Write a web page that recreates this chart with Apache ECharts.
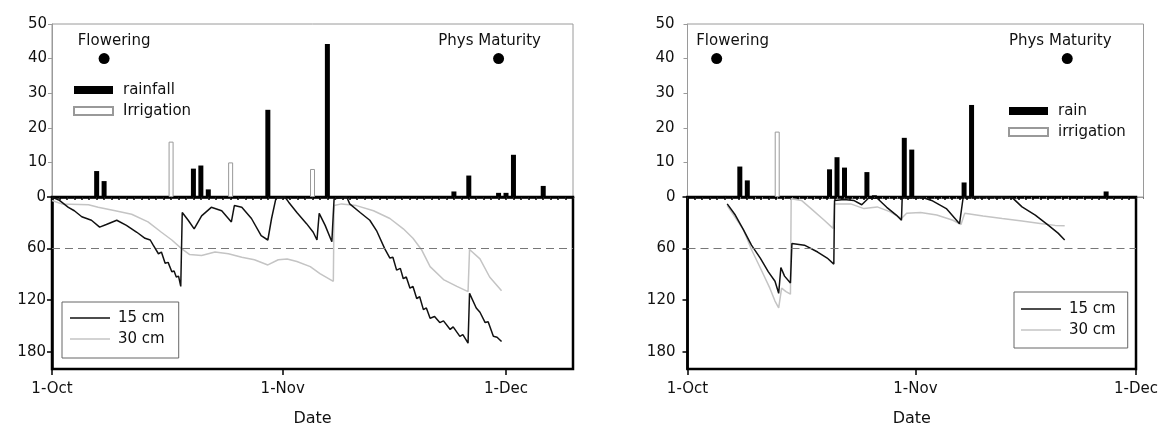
<!DOCTYPE html>
<html>
<head>
<meta charset="utf-8">
<script src="https://cdn.jsdelivr.net/npm/echarts@6/dist/echarts.min.js"></script>
<style>
  html, body { margin: 0; padding: 0; background: #fff; }
  #chart { width: 1161px; height: 428px; }
</style>
</head>
<body>
<div id="chart"></div>
<script>
// x values are days after 1-Oct
const monthTicks = [0, 31, 61]
const monthLabels = ['1-Oct', '1-Nov', '1-Dec']
const depthTicks = [0, 60, 120, 180]
const stageNames = ['Flowering', 'Phys Maturity']

/* left panel */
const leftStageDays = [7, 60]
const leftRain = [[6, 7.5], [7, 4.6], [19, 8.2], [20, 9.1], [21, 2.2], [29, 25.2], [37, 44.2],
  [54, 1.6], [56, 6.2], [60, 1.2], [61, 1.2], [62, 12.2], [66, 3.2]]
const leftIrrigation = [[16, 16], [24, 10], [35, 8.1]]
const left15cm = [[0, 0], [1, 4], [2.2, 12], [3, 16], [4, 23], [5.3, 27], [6.4, 35], [7.3, 32], [8.7, 27],
  [10, 33], [11.4, 41], [12.5, 48], [13.2, 50], [13.6, 56], [14.3, 66], [14.7, 64], [15.2, 77], [15.6, 76],
  [16.1, 87], [16.4, 86], [16.7, 93], [17, 92], [17.3, 104], [17.5, 18], [18.3, 27], [19.1, 37], [20.1, 22],
  [21.4, 12], [22.8, 16], [24.1, 29], [24.5, 10], [25.5, 12], [26.8, 25], [28.1, 45], [29, 50], [29.5, 25],
  [30.1, 1], [31.3, 0], [31.8, 6], [32.9, 18], [34.2, 31], [35.1, 41], [35.6, 50], [35.9, 19], [36.7, 33],
  [37.6, 52], [37.9, 2], [38, 0], [39.6, 0], [40, 8], [41.4, 18], [42.7, 27], [43.6, 39], [44.7, 60],
  [45.4, 71], [45.8, 70], [46.3, 85], [46.8, 83], [47.2, 95], [47.6, 93], [48.1, 106], [48.5, 104],
  [49, 118], [49.4, 116], [49.9, 131], [50.3, 129], [50.8, 141], [51.4, 139], [52.1, 146], [52.6, 144],
  [53.5, 154], [53.9, 151], [54.8, 162], [55.2, 160], [55.9, 170], [56.1, 112], [57, 129], [57.5, 134],
  [58.2, 146], [58.6, 145], [59.3, 162], [59.8, 163], [60.4, 168]]
const left30cm = [[0, 4], [1.3, 8], [4.9, 9], [6.2, 12], [8.5, 16], [10.7, 20], [12.9, 29], [14.7, 41],
  [16.1, 50], [17.4, 60], [18.5, 67], [20.1, 68], [21.9, 64], [23.7, 66], [25.5, 70], [27.2, 73], [29, 79],
  [30.4, 73], [31.6, 72], [32.9, 75], [34.7, 81], [36, 89], [37.8, 98], [37.9, 10], [38.9, 8], [40.9, 10],
  [43.2, 16], [45.4, 25], [47.2, 37], [48.5, 48], [49.7, 62], [50.8, 81], [52.6, 96], [54.4, 104],
  [55.9, 110], [56.1, 61], [57.5, 72], [58.8, 93], [60.4, 109]]

/* right panel */
const rightStageDays = [3.9, 50.8]
const rightRain = [[5, 0.3], [7, 8.8], [8, 4.8], [19, 8], [20, 11.5], [21, 8.5], [24, 7.2], [25, 0.5],
  [29, 17.1], [30, 13.7], [37, 4.2], [38, 26.6], [45, 0.3], [56, 1.6]]
const rightIrrigation = [[12, 18.9]]
const right15cm = [[5.4, 8], [6.5, 21], [7.6, 38], [8.7, 56], [9.9, 71], [11, 87], [11.9, 98], [12.4, 112],
  [12.7, 82], [13.2, 92], [14, 100], [14.2, 54], [15.9, 56], [17.7, 64], [19, 71], [19.9, 78], [20, 4],
  [21.3, 3], [22.6, 4], [23.7, 9], [24.6, 1.5], [25.8, 1.5], [27.1, 12], [28.4, 21], [29.1, 27], [29.2, 1],
  [32, 0.5], [33.2, 4], [35.2, 13.5], [37, 31], [37.5, 0], [42.8, 0], [44.2, 1], [45.5, 11.5], [47.3, 21],
  [49.1, 33], [50.4, 42], [51.3, 50]]
const right30cm = [[5.4, 10], [7.6, 38], [8.7, 61], [10.1, 86], [11.2, 106], [11.9, 121], [12.4, 129],
  [12.8, 106], [13.4, 110], [14, 113], [14.1, 2], [15.5, 4], [16.8, 13.5], [18.6, 27], [19.8, 36.5], [20, 8],
  [22.2, 8], [24, 13.5], [25.8, 11.5], [27.5, 17], [29.1, 25], [29.8, 19], [31.7, 18], [33.9, 21],
  [36.1, 27], [37.2, 32], [37.7, 19], [40.2, 22], [42.8, 25], [45.5, 28], [48.2, 31], [50, 33], [51.3, 33.5]]

const FONT = 'DejaVu Sans'
const TXT = '#111'
const GREY = '#9a9a9a'
const FS = 15

const panels = [
  {
    left: 52, width: 521, maxDay: 70, yMargin: 5, yMargin2: 6,
    rainName: 'rainfall', irrName: 'Irrigation',
    rain: leftRain, irr: leftIrrigation, d15: left15cm, d30: left30cm,
    stageDays: leftStageDays, stageOffsets: [10, -9],
    barLegend: { left: 73, top: 82 },
    lineLegend: { left: 62, top: 302, padding: [8, 14, 11, 8] },
  },
  {
    left: 687.5, width: 456, maxDay: 61, yMargin: 13, yMargin2: 12,
    rainName: 'rain', irrName: 'irrigation',
    rain: rightRain, irr: rightIrrigation, d15: right15cm, d30: right30cm,
    stageDays: rightStageDays, stageOffsets: [16, -7],
    barLegend: { left: 1008, top: 103 },
    lineLegend: { left: 1014, top: 292, padding: [9, 12, 10, 7] },
  },
]

const option = {
  animation: false,
  backgroundColor: '#fff',
  textStyle: { fontFamily: FONT, color: TXT },
  grid: [], xAxis: [], yAxis: [], series: [], legend: [],
}

panels.forEach((p, i) => {
  const gTop = 2 * i, gBot = 2 * i + 1
  const xTop = 3 * i, xBot = 3 * i + 1
  const yTop = 2 * i, yBot = 2 * i + 1

  option.grid.push(
    { left: p.left, width: p.width, top: 24, height: 173, show: true, borderColor: GREY, borderWidth: 1 },
    { left: p.left, width: p.width, top: 197, height: 174, show: true, borderColor: '#000', borderWidth: 2.5 }
  )

  option.xAxis.push(
    {
      type: 'value', gridIndex: gTop, position: 'top', min: 0, max: p.maxDay, interval: 1,
      axisLine: { lineStyle: { color: GREY, width: 1 } },
      axisTick: { inside: true, length: 2, lineStyle: { color: '#777' } },
      axisLabel: { show: false }, splitLine: { show: false },
    },
    {
      type: 'value', gridIndex: gBot, position: 'bottom', min: 0, max: p.maxDay, interval: 1,
      axisLine: { lineStyle: { color: '#000', width: 2.5 } },
      axisTick: { length: 3, lineStyle: { color: '#000', width: 1.5 } },
      axisLabel: { show: false }, splitLine: { show: false },
    },
    {
      type: 'value', gridIndex: gBot, position: 'bottom', min: 0, max: p.maxDay,
      axisLine: { show: false },
      axisTick: { customValues: monthTicks, length: 6, lineStyle: { color: '#000', width: 1.5 } },
      axisLabel: {
        customValues: monthTicks, margin: 13, fontSize: FS, color: TXT, fontFamily: FONT,
        formatter: (v) => monthLabels[monthTicks.indexOf(v)] || '',
      },
      splitLine: { show: false },
      name: 'Date', nameLocation: 'middle', nameGap: 42,
      nameTextStyle: { fontSize: 16, color: TXT, fontFamily: FONT },
    }
  )

  option.yAxis.push(
    {
      type: 'value', gridIndex: gTop, min: 0, max: 50, interval: 10,
      axisLine: { show: true, lineStyle: { color: GREY, width: 1 } },
      axisTick: { show: true, length: 4, lineStyle: { color: GREY } },
      axisLabel: { margin: p.yMargin, showMinLabel: false, fontSize: FS, color: TXT, fontFamily: FONT },
      splitLine: { show: false },
    },
    {
      type: 'value', gridIndex: gBot, min: 0, max: 200, inverse: true,
      axisLine: { show: true, lineStyle: { color: '#000', width: 2.5 } },
      axisTick: { show: true, customValues: depthTicks, length: 5, lineStyle: { color: '#000', width: 1.5 } },
      axisLabel: { customValues: depthTicks, margin: p.yMargin2, fontSize: FS, color: TXT, fontFamily: FONT },
      splitLine: { show: false },
    }
  )

  option.series.push(
    {
      name: p.rainName, type: 'bar', xAxisIndex: xTop, yAxisIndex: yTop,
      data: p.rain, barWidth: 5, barGap: '-100%', itemStyle: { color: '#000' },
    },
    {
      name: p.irrName, type: 'bar', xAxisIndex: xTop, yAxisIndex: yTop,
      data: p.irr, barWidth: 5, barGap: '-100%',
      itemStyle: { color: '#fff', borderColor: '#999', borderWidth: 1 },
    },
    {
      type: 'scatter', xAxisIndex: xTop, yAxisIndex: yTop, symbolSize: 11,
      itemStyle: { color: '#000', opacity: 1 },
      data: p.stageDays.map((d, k) => ({
        value: [d, 40], name: stageNames[k],
        label: { offset: [p.stageOffsets[k], 0] },
      })),
      label: {
        show: true, position: 'top', distance: 4, formatter: '{b}',
        fontSize: FS, color: TXT, fontFamily: FONT,
      },
    },
    {
      name: '15 cm', type: 'line', xAxisIndex: xBot, yAxisIndex: yBot, data: p.d15,
      symbol: 'none', lineStyle: { color: '#111', width: 1.5 }, itemStyle: { color: '#111' }, z: 3,
      markLine: {
        silent: true, symbol: ['none', 'none'], label: { show: false },
        lineStyle: { color: '#777', type: [8, 5], width: 1 },
        data: [{ yAxis: 60 }],
      },
    },
    {
      name: '30 cm', type: 'line', xAxisIndex: xBot, yAxisIndex: yBot, data: p.d30,
      symbol: 'none', lineStyle: { color: '#c4c4c4', width: 1.5 }, itemStyle: { color: '#c4c4c4' }, z: 2,
    }
  )

  option.legend.push(
    {
      data: [p.rainName, p.irrName], orient: 'vertical', left: p.barLegend.left, top: p.barLegend.top,
      padding: 0, itemGap: 5, itemWidth: 39, itemHeight: 8, icon: 'rect', selectedMode: false,
      textStyle: { fontSize: FS, color: TXT, fontFamily: FONT, lineHeight: 16, padding: [0, 0, 0, 5] },
    },
    {
      data: ['15 cm', '30 cm'], orient: 'vertical', left: p.lineLegend.left, top: p.lineLegend.top,
      padding: p.lineLegend.padding, itemGap: 5, itemWidth: 40, itemHeight: 1.6, icon: 'rect',
      borderColor: '#666', borderWidth: 1, selectedMode: false,
      textStyle: { fontSize: FS, color: TXT, fontFamily: FONT, lineHeight: 16, padding: [0, 0, 0, 3] },
    }
  )
})

const chart = echarts.init(document.getElementById('chart'), null, { renderer: 'canvas' })
chart.setOption(option)
window.addEventListener('resize', () => chart.resize())
</script>
</body>
</html>
